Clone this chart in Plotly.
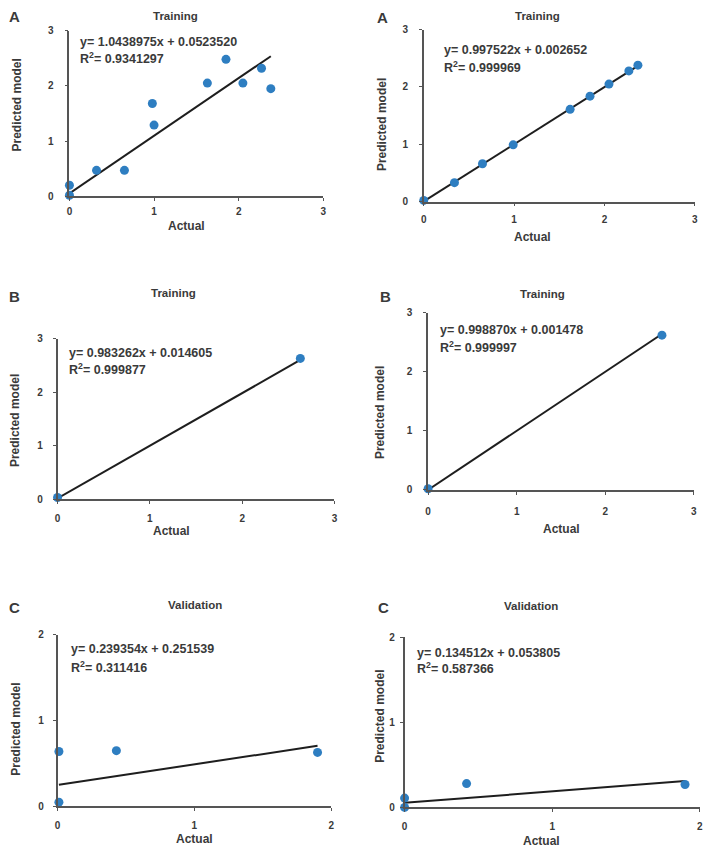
import plotly.graph_objects as go

W, H = 713, 866

# ---------------- data ----------------
# Panel A (left) - Training
a1_actual = [0.0, 0.0, 0.32, 0.65, 0.98, 1.0, 1.63, 1.85, 2.05, 2.27, 2.38]
a1_pred = [0.02, 0.20, 0.47, 0.47, 1.68, 1.29, 2.05, 2.48, 2.05, 2.32, 1.95]
a1_slope, a1_icpt, a1_r2 = "1.0438975", "0.0523520", "0.9341297"

# Panel A (right) - Training
a2_actual = [0.0, 0.34, 0.65, 0.99, 1.62, 1.84, 2.05, 2.27, 2.37]
a2_pred = [0.02, 0.33, 0.66, 0.99, 1.61, 1.84, 2.05, 2.28, 2.38]
a2_slope, a2_icpt, a2_r2 = "0.997522", "0.002652", "0.999969"

# Panel B (left) - Training
b1_actual = [0.0, 2.63]
b1_pred = [0.03, 2.63]
b1_slope, b1_icpt, b1_r2 = "0.983262", "0.014605", "0.999877"

# Panel B (right) - Training
b2_actual = [0.0, 2.64]
b2_pred = [0.02, 2.62]
b2_slope, b2_icpt, b2_r2 = "0.998870", "0.001478", "0.999997"

# Panel C (left) - Validation
c1_actual = [0.01, 0.01, 0.43, 1.90]
c1_pred = [0.64, 0.05, 0.65, 0.63]
c1_slope, c1_icpt, c1_r2 = "0.239354", "0.251539", "0.311416"

# Panel C (right) - Validation
c2_actual = [0.0, 0.0, 0.42, 1.90]
c2_pred = [0.0, 0.11, 0.28, 0.27]
c2_slope, c2_icpt, c2_r2 = "0.134512", "0.053805", "0.587366"

panel_letters = ["A", "A", "B", "B", "C", "C"]
panel_titles = ["Training", "Training", "Training", "Training", "Validation", "Validation"]
x_ticks = [[0, 1, 2, 3]] * 4 + [[0, 1, 2]] * 2
y_ticks = [[0, 1, 2, 3]] * 4 + [[0, 1, 2]] * 2
x_title = "Actual"
y_title = "Predicted model"

series = [
    (a1_actual, a1_pred, a1_slope, a1_icpt, a1_r2),
    (a2_actual, a2_pred, a2_slope, a2_icpt, a2_r2),
    (b1_actual, b1_pred, b1_slope, b1_icpt, b1_r2),
    (b2_actual, b2_pred, b2_slope, b2_icpt, b2_r2),
    (c1_actual, c1_pred, c1_slope, c1_icpt, c1_r2),
    (c2_actual, c2_pred, c2_slope, c2_icpt, c2_r2),
]

# ---------------- layout geometry (pixels) ----------------
# (x0, x1, y0(bottom), y1(top))
boxes = [
    (67, 323, 193, 25),
    (424.3, 697.7, 198.3, 24),
    (55, 334.3, 500, 337.3),
    (428.7, 696.7, 490.7, 311),
    (55, 331, 811.7, 637.7),
    (405, 702.7, 812.7, 640),
]
x_standoff = [2, 5, 6, 8, 6, 6]
y_standoff = [9, 9, 8, 9, 7, 3]
letter_pos = [(12, 11), (383, 12), (12, 295), (386, 295), (12, 610), (384, 610)]
title_pos = [(174, 10), (539, 10), (172, 291), (544, 292), (194, 607), (532, 608)]
eq_pos = [(76, 36), (443, 45), (65, 352), (439, 329), (66.5, 652), (415, 656)]
r2_y = [52.5, 61.7, 368.5, 345.7, 670, 671.7]
actual_pos = [(185, 223), (534, 234), (170, 532), (563, 530), (193, 845), (543, 847)]
pred_pos = [(14, 100), (383, 120), (12, 420), (380, 412), (13, 733), (380, 720)]

FONT = "Liberation Sans, Arial, sans-serif"
TXT = "#3a3a3a"
AX = "#555555"
DOT = "#2e7ec1"


def px(x):
    return x / W


def py(y):
    return 1 - y / H


fig = go.Figure()
annotations = []

for i, (xs, ys, slope, icpt, r2) in enumerate(series):
    k = "" if i == 0 else str(i + 1)
    m, b = float(slope), float(icpt)
    xmin, xmax = min(xs), max(xs)
    fig.add_trace(go.Scatter(
        x=[xmin, xmax], y=[m * xmin + b, m * xmax + b], mode="lines",
        line=dict(color="#1e1e1e", width=2), xaxis="x" + k, yaxis="y" + k,
        cliponaxis=False, hoverinfo="skip"))
    fig.add_trace(go.Scatter(
        x=xs, y=ys, mode="markers",
        marker=dict(color=DOT, size=9, line=dict(width=0)),
        xaxis="x" + k, yaxis="y" + k, cliponaxis=False))

    x0, x1, y0, y1 = boxes[i]
    common = dict(showgrid=False, zeroline=False, showline=True, linecolor=AX,
                  linewidth=1.5, ticks="outside", ticklen=3, tickcolor=AX,
                  tickwidth=1.2,
                  tickfont=dict(family=FONT, size=10, color=TXT))
    fig.update_layout(**{
        "xaxis" + k: dict(domain=[px(x0), px(x1)], range=[0, x_ticks[i][-1]],
                          tickvals=x_ticks[i],
                          ticktext=["<b>%d</b>" % t for t in x_ticks[i]],
                          anchor="y" + k,
                          ticklabelstandoff=x_standoff[i], **common),
        "yaxis" + k: dict(domain=[py(y0), py(y1)], range=[0, y_ticks[i][-1]],
                          tickvals=y_ticks[i],
                          ticktext=["<b>%d</b>" % t for t in y_ticks[i]],
                          anchor="x" + k,
                          ticklabelstandoff=y_standoff[i], **common),
    })

    def ann(text, x, y, size, xanchor="center", angle=0):
        annotations.append(dict(
            text=text, x=px(x), y=py(y), xref="paper", yref="paper",
            xanchor=xanchor, yanchor="middle", showarrow=False, textangle=angle,
            font=dict(family=FONT, size=size, color=TXT)))

    ann("<b>%s</b>" % panel_letters[i], *letter_pos[i], 15)
    ann("<b>%s</b>" % panel_titles[i], *title_pos[i], 11.5)
    ann("<b>y= %sx + %s</b>" % (slope, icpt), eq_pos[i][0], eq_pos[i][1], 12.5, "left")
    ann("<b>R<sup>2</sup>= %s</b>" % r2, eq_pos[i][0], r2_y[i], 12.5, "left")
    ann("<b>%s</b>" % x_title, *actual_pos[i], 12)
    ann("<b>%s</b>" % y_title, *pred_pos[i], 12, angle=-90)

fig.update_layout(width=W, height=H, margin=dict(l=0, r=0, t=0, b=0),
                  plot_bgcolor="white", paper_bgcolor="white",
                  showlegend=False, annotations=annotations)

fig.write_html("out.html")
